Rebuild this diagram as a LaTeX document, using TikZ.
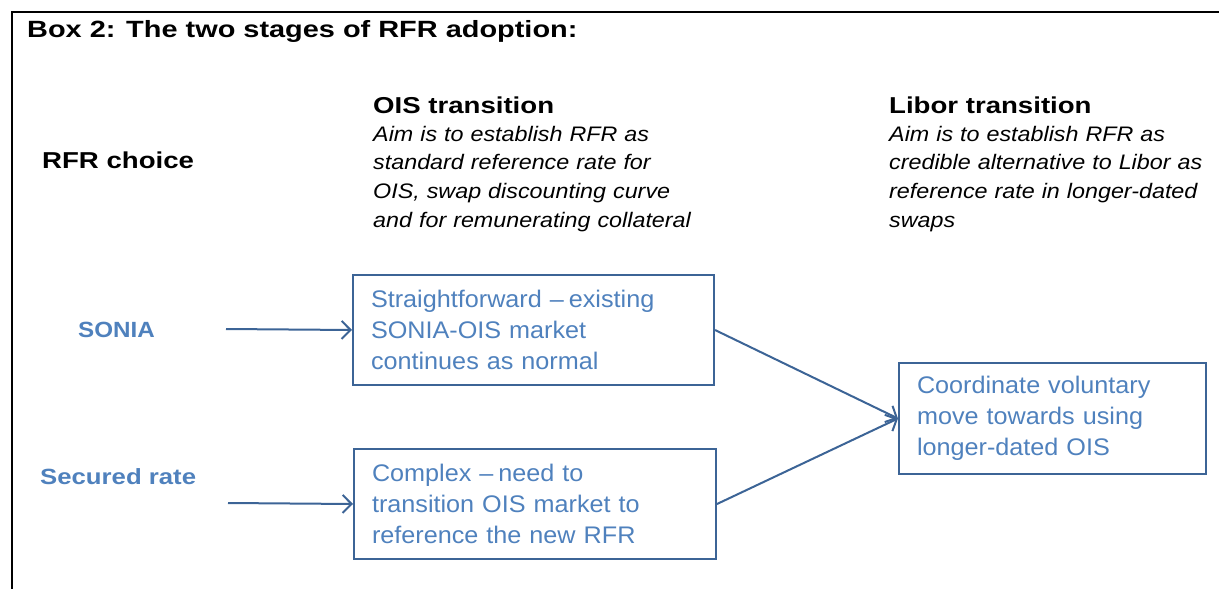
\documentclass[tikz,border=0pt]{standalone}
\usepackage{fontspec}
\setmainfont{Liberation Sans}
\newfontfamily\titlefont[FakeStretch=1.23]{Liberation Sans}
\newfontfamily\headfont[FakeStretch=1.2]{Liberation Sans}
\newfontfamily\aimfont[FakeStretch=1.11]{Liberation Sans}
\newfontfamily\boxfont[FakeStretch=1.05,WordSpace=2.1]{Liberation Sans}
\newfontfamily\soniafont[FakeStretch=1.1]{Liberation Sans}
\newfontfamily\securedfont[FakeStretch=1.17]{Liberation Sans}
\usetikzlibrary{arrows.meta}
\definecolor{txtblue}{RGB}{79,129,189}
\definecolor{lineblue}{RGB}{60,100,150}
\begin{document}
\begin{tikzpicture}[x=1pt,y=-1pt,
  txt/.style={inner sep=0pt, anchor=base west},
  head/.style={txt, font=\headfont\fontsize{23}{28}\selectfont\bfseries},
  aim/.style={inner sep=0pt, anchor=base west, align=left, text width=330pt,
    font=\aimfont\fontsize{21}{28.7}\selectfont\itshape},
  lab/.style={txt, text=txtblue},
  box/.style={draw=lineblue, line width=2pt, text=txtblue, align=left,
    inner xsep=18pt, inner ysep=0pt, anchor=north west, minimum height=110pt,
    font=\boxfont\fontsize{24}{31}\selectfont},
  arr/.style={draw=lineblue, line width=2pt,
    -{Straight Barb[length=9pt,width=18pt,line width=2pt]}}]
\useasboundingbox (0,0) rectangle (1219,589);
\draw[line width=2.5pt] (12,589) -- (12,12) -- (1219,12);

\node[txt, font=\titlefont\fontsize{23.5}{28}\selectfont\bfseries] (title) at (27,37)
  {Box 2: The two stages of RFR adoption:};

\node[head] (ois) at (373,113) {OIS transition};
\node[aim] (oisaim) at (373,141) {Aim is to establish RFR as\\standard reference rate for\\OIS, swap discounting curve\\and for remunerating collateral};
\node[head] (libor) at (889,113) {Libor transition};
\node[aim] (liboraim) at (889,141) {Aim is to establish RFR as\\credible alternative to Libor as\\reference rate in longer-dated\\swaps};
\node[head] (choice) at (42,168) {RFR choice};

\node[lab, font=\soniafont\fontsize{22}{26}\selectfont\bfseries] (sonia) at (78,337) {SONIA};
\node[lab, font=\securedfont\fontsize{22}{26}\selectfont\bfseries] (secured) at (40,484) {Secured rate};

\node[box, text width=325pt] (box1) at (352,274)
  {Straightforward –\hspace{5pt}existing\\SONIA-OIS market\\continues as normal};
\node[box, text width=326pt] (box2) at (353,448)
  {Complex –\hspace{5pt}need to\\transition OIS market to\\reference the new RFR};
\node[box, text width=271pt, minimum height=111pt] (box3) at (898,362)
  {Coordinate voluntary\\move towards using\\longer-dated OIS};

\coordinate (s1) at (226,329);
\coordinate (s2) at (228,503);
\draw[arr] (s1) -- (box1.west);
\draw[arr] (s2) -- (box2.west);
\draw[arr] (box1.east) -- (box3.west);
\draw[arr] (box2.east) -- (box3.west);
\end{tikzpicture}
\end{document}
